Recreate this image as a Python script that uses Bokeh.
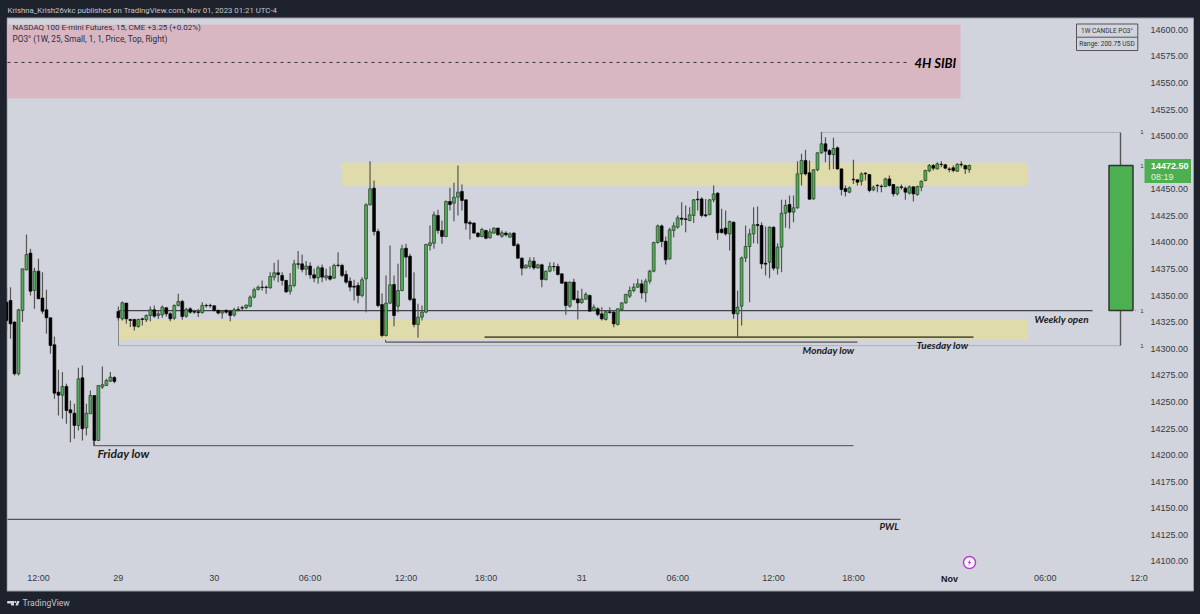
from bokeh.plotting import figure
from bokeh.embed import file_html
from bokeh.resources import INLINE
from bokeh.models import Range1d, FixedTicker, LinearAxis, Label

highs = [14358.0,
14358.0,14326.0,14337.6,14375.2,14407.5,14394.0,14376.2,14384.7,14372.1,14355.5,
14329.2,14311.6,14280.3,14278.1,14267.1,14251.4,14248.3,14282.1,14284.3,14248.3,
14260.8,14256.1,14265.5,14283.4,14271.8,14278.1,14274.3,14339.8,14344.5,14343.0,
14328.2,14328.2,14328.2,14329.2,14332.3,14339.8,14340.8,14336.1,14340.8,14339.2,
14334.5,14341.7,14351.7,14346.1,14338.6,14339.2,14336.7,14337.6,14343.9,14342.3,
14342.3,14340.8,14337.0,14336.1,14337.3,14336.7,14338.6,14339.8,14340.5,14341.7,
14350.2,14357.4,14359.6,14364.3,14359.6,14372.1,14380.9,14383.7,14372.1,14364.9,
14371.2,14383.7,14391.9,14388.7,14382.5,14381.5,14375.2,14378.4,14379.3,14375.2,
14377.4,14380.0,14390.9,14380.0,14373.7,14367.4,14364.9,14362.7,14367.4,14437.0,
14476.5,14458.3,14412.8,14352.3,14368.9,14397.2,14368.9,14379.9,14397.8,14398.7,
14389.3,14372.1,14342.3,14340.7,14398.7,14416.0,14429.1,14430.7,14420.7,14439.5,
14451.4,14456.1,14472.4,14454.5,14440.1,14420.7,14419.1,14409.7,14413.8,14411.9,
14412.8,14414.4,14413.8,14411.3,14410.6,14409.7,14409.7,14399.4,14386.2,14379.3,
14386.2,14386.2,14379.9,14379.9,14373.6,14381.5,14381.5,14379.9,14371.1,14363.3,
14363.3,14365.8,14354.8,14356.4,14353.3,14351.1,14341.7,14339.2,14339.2,14336.0,
14339.2,14336.0,14338.2,14343.9,14351.7,14358.6,14361.7,14365.8,14364.9,14365.8,
14374.3,14400.6,14416.9,14416.9,14405.6,14413.8,14419.1,14425.4,14437.9,14434.8,
14433.2,14441.0,14448.3,14442.6,14441.0,14441.0,14453.6,14447.3,14431.6,14430.1,
14420.7,14419.7,14354.8,14386.8,14415.9,14412.8,14433.2,14433.8,14419.1,14415.0,
14415.0,14415.0,14399.3,14440.1,14440.1,14444.2,14444.2,14476.5,14483.4,14487.1,
14477.1,14469.2,14484.9,14503.7,14499.0,14488.0,14498.4,14490.2,14469.9,14453.6,
14452.6,14477.7,14459.8,14466.1,14466.1,14464.5,14453.6,14455.1,14454.5,14460.8,
14463.0,14455.1,14452.9,14454.5,14452.6,14453.6,14452.6,14453.3,14458.3,14468.3,
14473.9,14473.9,14475.5,14476.5,14473.9,14470.8,14472.4,14474.6,14476.5,14473.0,14473.3]

lows = [14317.0,
14309.4,14274.9,14274.9,14325.1,14373.7,14350.2,14337.6,14347.0,14332.9,14314.1,
14295.3,14253.0,14237.3,14234.2,14229.5,14212.2,14215.4,14223.2,14213.8,14218.5,
14238.9,14209.1,14213.2,14262.4,14265.5,14268.7,14267.7,14326.7,14326.7,14323.5,
14320.4,14317.3,14319.8,14322.0,14325.1,14326.0,14329.2,14328.2,14329.2,14330.4,
14326.0,14327.3,14339.8,14327.3,14329.2,14332.9,14332.9,14329.8,14332.9,14338.6,
14338.6,14335.1,14332.3,14328.2,14332.9,14326.0,14330.4,14335.1,14336.1,14337.3,
14339.2,14347.3,14354.9,14354.9,14351.7,14356.4,14364.3,14362.7,14359.6,14352.4,
14351.1,14358.0,14375.2,14372.1,14369.0,14365.8,14362.7,14361.1,14362.7,14364.3,
14364.3,14365.8,14376.8,14367.4,14361.1,14354.2,14345.5,14342.9,14348.6,14334.5,
14434.8,14406.6,14339.2,14310.9,14311.6,14342.3,14321.3,14334.4,14354.2,14367.4,
14344.8,14320.3,14310.3,14326.6,14333.5,14392.5,14394.0,14408.1,14398.7,14405.0,
14430.1,14420.0,14425.4,14430.1,14411.9,14402.8,14408.1,14404.4,14405.0,14403.1,
14403.7,14408.1,14406.6,14404.4,14405.6,14404.4,14396.2,14384.6,14368.9,14375.2,
14375.2,14374.3,14375.2,14358.0,14364.2,14372.1,14373.0,14368.9,14361.1,14332.0,
14338.5,14345.4,14327.5,14342.3,14346.1,14334.8,14335.4,14330.7,14326.6,14326.6,
14332.9,14320.3,14321.9,14336.0,14342.3,14347.9,14353.3,14357.3,14347.0,14343.9,
14361.1,14372.1,14398.7,14395.6,14379.3,14383.7,14405.0,14412.8,14416.0,14409.7,
14420.0,14418.2,14430.1,14423.8,14423.8,14425.4,14437.9,14402.5,14408.1,14406.6,
14392.5,14328.2,14310.9,14321.9,14381.5,14343.8,14399.3,14398.7,14375.2,14368.9,
14366.4,14373.6,14369.9,14372.1,14413.8,14412.8,14419.1,14431.6,14453.6,14463.0,
14440.1,14440.1,14467.0,14483.4,14475.5,14468.3,14469.2,14468.3,14444.2,14443.2,
14446.4,14455.1,14453.6,14453.6,14458.3,14447.3,14448.2,14447.3,14447.3,14452.0,
14452.6,14443.2,14444.2,14449.5,14440.1,14445.1,14438.5,14443.9,14448.2,14457.6,
14466.1,14467.7,14468.6,14470.8,14468.9,14466.1,14466.1,14466.4,14470.8,14464.5,14465.5]

opens = [14343.9,
14345.5,14325.1,14276.5,14336.0,14374.3,14390.0,14354.9,14373.0,14347.7,14336.7,
14329.2,14303.8,14259.2,14256.4,14264.6,14242.6,14239.5,14227.9,14272.7,14225.7,
14238.9,14256.1,14213.8,14264.0,14265.5,14269.6,14273.0,14335.1,14328.2,14343.0,
14327.6,14327.6,14321.0,14328.2,14327.3,14331.4,14336.7,14331.4,14332.0,14338.6,
14332.9,14328.8,14340.8,14344.5,14330.7,14337.6,14335.1,14334.8,14334.2,14340.8,
14340.8,14340.5,14336.1,14333.6,14336.1,14335.4,14331.7,14337.0,14338.6,14338.6,
14340.1,14348.6,14355.8,14358.0,14358.0,14357.4,14367.4,14371.5,14369.0,14364.3,
14354.2,14359.6,14379.9,14379.9,14374.9,14377.8,14369.6,14366.8,14376.2,14366.8,
14368.4,14366.5,14378.7,14378.4,14369.9,14363.6,14358.9,14359.6,14350.2,14365.8,
14435.4,14451.1,14410.3,14341.7,14312.5,14342.9,14360.5,14340.1,14354.8,14394.6,
14387.1,14347.0,14322.9,14329.8,14334.5,14397.2,14399.3,14425.4,14411.3,14405.6,
14438.5,14437.0,14442.6,14447.9,14440.1,14418.8,14418.2,14408.8,14405.6,14411.3,
14404.4,14408.8,14413.5,14405.9,14408.8,14405.0,14408.8,14397.8,14385.2,14376.1,
14377.4,14382.4,14376.1,14379.0,14365.2,14373.0,14377.4,14377.4,14370.5,14362.7,
14340.1,14362.7,14347.0,14343.5,14346.7,14350.1,14336.0,14337.6,14332.9,14327.6,
14334.8,14334.5,14322.9,14337.0,14343.2,14349.5,14354.8,14358.0,14361.1,14352.6,
14363.6,14373.0,14400.0,14415.6,14401.2,14384.6,14411.3,14414.4,14422.9,14422.2,
14420.7,14425.4,14440.7,14441.0,14426.0,14426.3,14440.1,14446.4,14412.5,14413.5,
14408.1,14419.1,14332.9,14340.1,14385.5,14396.2,14408.1,14416.9,14415.9,14380.5,
14381.5,14414.4,14375.8,14395.6,14427.5,14435.7,14428.5,14432.6,14464.5,14477.1,
14465.5,14441.0,14468.3,14484.3,14492.8,14486.5,14482.7,14489.0,14469.2,14450.7,
14447.3,14459.5,14458.9,14457.6,14465.2,14463.9,14449.5,14453.6,14452.9,14452.6,
14459.8,14454.5,14445.7,14452.3,14451.1,14446.4,14452.3,14445.1,14452.0,14458.3,
14467.4,14472.4,14469.2,14473.6,14473.0,14469.2,14470.2,14467.0,14473.6,14472.4,14468.6]

closes = [14326.7,
14323.5,14276.5,14336.7,14375.2,14388.7,14354.2,14373.0,14347.0,14335.4,14329.2,
14303.1,14258.3,14256.4,14264.6,14242.0,14239.8,14227.9,14271.8,14224.8,14239.5,
14256.1,14213.8,14265.5,14266.2,14270.2,14273.4,14269.3,14329.2,14343.3,14328.2,
14326.7,14321.3,14327.6,14327.6,14331.4,14336.7,14330.7,14332.9,14339.2,14332.9,
14328.2,14340.8,14344.5,14330.4,14337.0,14334.5,14334.5,14334.2,14340.8,14340.5,
14340.5,14336.1,14333.6,14335.4,14334.5,14331.4,14336.7,14336.7,14338.3,14341.1,
14348.6,14355.5,14358.0,14357.7,14357.7,14368.0,14371.5,14369.9,14364.3,14353.6,
14359.6,14379.9,14379.6,14374.6,14377.8,14369.6,14366.5,14376.2,14367.4,14368.7,
14365.5,14378.4,14378.4,14369.0,14362.7,14358.0,14358.0,14350.2,14364.9,14435.4,
14450.4,14410.3,14340.7,14312.5,14342.9,14360.2,14331.3,14354.8,14394.0,14386.2,
14346.4,14322.9,14329.8,14334.5,14398.1,14399.7,14426.0,14411.3,14405.6,14438.5,
14435.7,14442.6,14447.3,14439.5,14418.2,14417.5,14408.8,14405.6,14412.2,14404.0,
14410.0,14413.5,14407.2,14409.1,14407.2,14408.1,14397.2,14385.2,14375.8,14378.7,
14382.7,14376.1,14379.0,14365.2,14373.0,14377.4,14377.1,14369.9,14361.7,14340.7,
14362.7,14346.4,14343.2,14346.7,14351.1,14335.4,14339.2,14332.3,14328.2,14334.8,
14334.2,14323.5,14337.6,14343.2,14351.1,14354.8,14358.0,14361.1,14352.6,14363.6,
14373.0,14400.0,14415.6,14400.9,14383.7,14411.9,14415.6,14423.2,14421.9,14421.6,
14426.0,14440.1,14440.1,14425.4,14425.1,14440.1,14445.7,14409.1,14409.4,14408.1,
14419.7,14332.9,14339.2,14385.5,14396.2,14408.1,14416.6,14415.9,14379.9,14379.6,
14414.4,14375.8,14395.6,14427.5,14434.8,14428.5,14432.6,14464.5,14477.1,14464.5,
14440.7,14468.3,14484.3,14492.8,14485.9,14482.7,14488.4,14469.2,14449.8,14447.9,
14451.4,14458.9,14456.7,14464.5,14464.5,14448.9,14452.0,14453.3,14452.6,14459.8,
14453.6,14445.7,14452.0,14451.7,14447.3,14452.3,14445.7,14452.6,14457.6,14467.7,
14472.4,14469.9,14473.9,14473.3,14469.9,14468.6,14467.7,14473.6,14473.0,14469.2,14472.4]

price_ticks = [14100,14125,14150,14175,14200,14225,14250,14275,14300,14325,14350,14375,14400,14425,14450,14500,14525,14550,14575,14600]
time_ticks = [8,28,52,76,100,120,144,168,192,212,260,283.5]
time_labels = ["12:00","29","30","06:00","12:00","18:00","31","06:00","12:00","18:00","06:00","12:0"]

# zones and levels (price)
sibi_top, sibi_bottom, sibi_mid = 14605.0, 14535.5, 14569.3
upper_zone = (14474.9, 14453.6)
lower_zone = (14327.6, 14308.5)
weekly_open, po3_high, po3_low, po3_close = 14336.0, 14503.5, 14303.0, 14472.4
monday_low, tuesday_low, friday_low, pwl = 14306.3, 14311.0, 14209.0, 14139.6

DARK = "#1e222d"; LIGHT = "#d1d4dc"; GREEN = "#4caf50"

def X(px):
    return 1 + (px - 10) / 3.995
def Y(py):
    return 14600 - (py - 29.3) * 0.9404

p = figure(width=1200, height=614, output_backend="svg", toolbar_location=None,
           x_range=Range1d(X(0), X(1200)), y_range=Range1d(Y(614), Y(0)),
           x_axis_type=None, y_axis_type=None, min_border=0)
p.outline_line_color = None
p.grid.visible = False
p.background_fill_color = DARK
p.border_fill_color = DARK

yax = LinearAxis(fixed_location=X(1140), ticker=FixedTicker(ticks=price_ticks),
                 major_label_overrides={t: f"{t:.2f}" for t in price_ticks}, major_label_standoff=4)
xax = LinearAxis(fixed_location=Y(560), ticker=FixedTicker(ticks=time_ticks),
                 major_label_overrides=dict(zip(time_ticks, time_labels)), major_label_standoff=6)
p.add_layout(yax, "right")
p.add_layout(xax, "below")
for ax in (xax, yax):
    ax.axis_line_color = None
    ax.major_tick_line_color = None
    ax.minor_tick_line_color = None
    ax.major_label_text_color = "#363a45"
    ax.major_label_text_font = "Liberation Sans"
    ax.major_label_text_font_size = "9px"

# chart pane
p.quad(left=X(6.5), right=X(1193), top=Y(17.5), bottom=Y(590.5), fill_color=LIGHT, line_color="#9a9da6", line_width=1)

# zones
p.quad(left=X(7), right=X(960), top=sibi_top, bottom=sibi_bottom, fill_color="#d9b7c2", line_color=None)
p.quad(left=X(341), right=X(1027), top=upper_zone[0], bottom=upper_zone[1], fill_color="#e0dbaa", line_color=None)
p.quad(left=X(118), right=X(1027), top=lower_zone[0], bottom=lower_zone[1], fill_color="#e0dbaa", line_color=None)

# levels
p.segment(X(7), sibi_mid, X(910), sibi_mid, line_color="#333333", line_width=1, line_dash="3 4")
p.segment(X(118), weekly_open, X(1092), weekly_open, line_color="#444444", line_width=1.2)
p.segment(X(118), weekly_open, X(118), po3_low, line_color="#888888", line_width=1)
p.segment(X(118), po3_low, X(1120), po3_low, line_color="#8a8d95", line_width=1, line_dash="1 1")
p.segment(X(820), po3_high, X(1120), po3_high, line_color="#8a8d95", line_width=1, line_dash="1 1")
p.segment(X(385), monday_low, X(857), monday_low, line_color="#555555", line_width=1.2)
p.segment(X(385), monday_low, X(385), lower_zone[1], line_color="#555555", line_width=1)
p.segment(X(484), tuesday_low, X(973), tuesday_low, line_color="#5b5a42", line_width=1.6)
p.segment(X(93), friday_low, X(853), friday_low, line_color="#666666", line_width=1.4)
p.segment(X(93), friday_low, X(93), friday_low + 4, line_color="#666666", line_width=1)
p.segment(X(7), pwl, X(900), pwl, line_color="#555555", line_width=1.4)

# candles
idx = list(range(len(opens)))
green = [i for i in idx if closes[i] >= opens[i]]
black = [i for i in idx if closes[i] < opens[i]]
p.segment(x0=idx, y0=lows, x1=idx, y1=highs, line_color="#555555", line_width=1.2)
p.vbar(x=green, width=0.72, top=[closes[i] for i in green], bottom=[opens[i] for i in green],
       fill_color=GREEN, line_color="#222222", line_width=0.6)
p.vbar(x=black, width=0.72, top=[opens[i] for i in black], bottom=[closes[i] for i in black],
       fill_color="#000000", line_color="#000000", line_width=0.6)
p.quad(left=X(0), right=X(6), top=Y(17.5), bottom=Y(590.5), fill_color=DARK, line_color=None)

# weekly PO3 candle
p.segment(X(1120), po3_high, X(1120), po3_low, line_color="#555555", line_width=1.4)
p.quad(left=X(1108.5), right=X(1132.5), top=po3_close, bottom=weekly_open,
       fill_color=GREEN, line_color="#333333", line_width=1.5)
p.segment(X(1132.5), weekly_open, X(1137), weekly_open, line_color="#8a8d95", line_width=1, line_dash="1 1")

# PO3 table
p.quad(left=X(1076), right=X(1137.3), top=Y(23.5), bottom=Y(50), fill_color=LIGHT, line_color="#555555", line_width=1)
p.segment(X(1076), Y(36.7), X(1137.3), Y(36.7), line_color="#555555", line_width=1)

# icon
p.scatter([X(969)], [Y(562)], size=12, fill_color="#ffffff", line_color="#b53fd3", line_width=1.5)
p.patch([X(970.5), X(967), X(968.8), X(967.5), X(971), X(969.2)],
        [Y(558.5), Y(562.5), Y(562.5), Y(565.5), Y(561.5), Y(561.5)], fill_color="#b53fd3", line_color=None)

# footer logo
for xs, ys in (([6.7,13.5,13.5,10.5,10.5,6.7],[600.5,600.5,605,605,603,603]),
               ([15,16.5,19,17.5],[605,600.5,600.5,605])):
    p.patch([X(v) for v in xs], [Y(v) for v in ys], fill_color=LIGHT, line_color=None)
p.quad(left=X(14), right=X(15.6), top=Y(600.5), bottom=Y(602.5), fill_color=LIGHT, line_color=None)

# price tag
p.quad(left=X(1144), right=X(1190.5), top=Y(158.5), bottom=Y(182.5), fill_color=GREEN, line_color=None)

def lab(text, px, py, size, color="#000000", font="Lato", style="normal", align="left"):
    p.add_layout(Label(x=X(px), y=Y(py), text=text, text_font=font, text_font_style=style,
                       text_font_size=f"{size}px", text_color=color, text_align=align,
                       text_baseline="middle"))

lab("Krishna_Krish26vkc published on TradingView.com, Nov 01, 2023 01:21 UTC-4", 7, 9.5, 7.8, "#c3c6ce", "Roboto")
lab("NASDAQ 100 E-mini Futures, 15, CME  +3.25 (+0.02%)", 12, 27, 8, "#2a2e39", "Roboto")
lab("PO3° (1W, 25, Small, 1, 1, Price, Top, Right)", 12, 38, 8.3, "#2a2e39", "Roboto")
lab("TradingView", 22, 602.5, 8.6, "#c3c6ce", "Roboto")
lab("4H SIBI", 914, 62, 13, "#000000", "Lato", "bold italic")
lab("Friday low", 97, 453, 12, "#1a1a1a", "Lato", "bold italic")
lab("Monday low", 802, 349.5, 10, "#1a1a1a", "Lato", "bold italic")
lab("Tuesday low", 916, 344, 10, "#1a1a1a", "Lato", "bold italic")
lab("Weekly open", 1034, 318, 10, "#1a1a1a", "Lato", "bold italic")
lab("PWL", 879, 525.5, 9.5, "#1a1a1a", "Lato", "bold italic")
lab("Nov", 949, 578.5, 9, "#131722", "Liberation Sans", "bold", "center")
lab("1W CANDLE PO3°", 1106.5, 30.5, 6.5, "#333333", "Roboto", "normal", "center")
lab("Range: 200.75 USD", 1106.5, 43.5, 6.5, "#333333", "Roboto", "normal", "center")
lab("14472.50", 1150.5, 165.5, 9, "#ffffff", "Liberation Sans", "bold")
lab("08:19", 1150.5, 176, 9, "#e3f3e4", "Liberation Sans")
for py in (131.5, 165, 310, 345):
    lab("1", 1141.5, py, 6, "#333333", "Liberation Sans", "normal", "center")

html = file_html(p, INLINE)
css = "<style>html,body{margin:0;padding:0;background:#1e222d;overflow:hidden}</style>"
html = html.replace("</head>", css + "</head>", 1)
open("out.html", "w").write(html)
